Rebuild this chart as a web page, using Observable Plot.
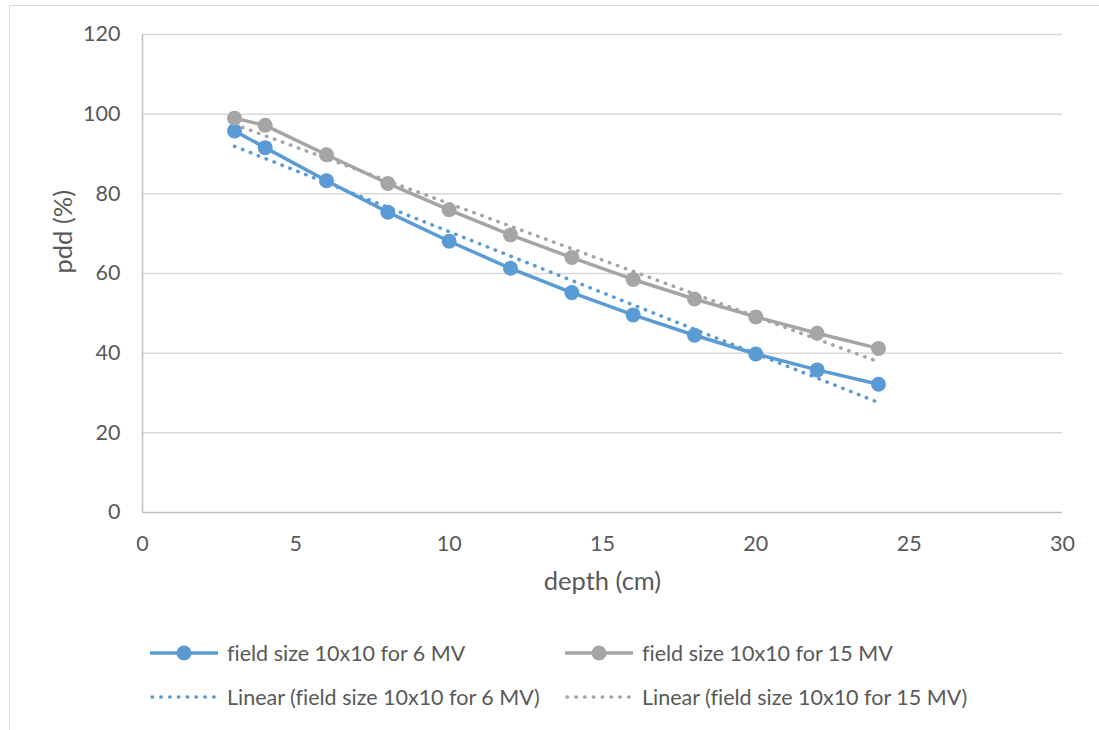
<!DOCTYPE html>
<html>
<head>
<meta charset="utf-8">
<script src="https://cdn.jsdelivr.net/npm/d3@7"></script>
<script src="https://cdn.jsdelivr.net/npm/@observablehq/plot@0.6"></script>
<style>
  body { margin: 0; background: #fff; font-family: Lato, "Open Sans", sans-serif; font-variant-ligatures: none; }
  svg text { font-variant-ligatures: none; }
  #wrap { position: relative; width: 1099px; height: 730px; overflow: hidden; }
  #frame { position: absolute; left: 9px; top: 5px; width: 1200px; height: 800px; border-top: 1.5px solid #d9d9d9; border-left: 1.5px solid #d9d9d9; pointer-events: none; }
  #chart { position: absolute; left: 0; top: 0; }
  #legend { position: absolute; left: 0; top: 610px; width: 1099px; height: 120px; }
  .item { position: absolute; display: flex; align-items: center; font-size: 21.5px; color: #595959; white-space: nowrap; font-variant-ligatures: none; }
  .item svg { margin-right: 7px; }
</style>
</head>
<body>
<div id="wrap">
  <div id="chart"></div>
  <div id="legend"></div>
  <div id="frame"></div>
</div>
<script>
const depth = [3, 4, 6, 8, 10, 12, 14, 16, 18, 20, 22, 24];
const pdd6 = [95.8, 91.6, 83.3, 75.4, 68.1, 61.3, 55.2, 49.6, 44.5, 39.8, 35.8, 32.2];
const pdd15 = [99.0, 97.2, 89.8, 82.6, 76.0, 69.7, 64.0, 58.5, 53.6, 49.1, 45.0, 41.2];
const seriesNames = ["field size 10x10 for 6 MV", "field size 10x10 for 15 MV"];
const trendNames = ["Linear (field size 10x10 for 6 MV)", "Linear (field size 10x10 for 15 MV)"];
const xLabel = "depth (cm)";
const yLabel = "pdd (%)";
const colors = ["#5b9bd5", "#a5a5a5"];
const xTicks = [0, 5, 10, 15, 20, 25, 30];
const yTicks = [0, 20, 40, 60, 80, 100, 120];

const d6 = depth.map((x, i) => ({x, y: pdd6[i]}));
const d15 = depth.map((x, i) => ({x, y: pdd15[i]}));
const dotStyle = {strokeWidth: 3.5, strokeDasharray: "0.5,8", strokeLinecap: "round"};

const chart = Plot.plot({
  width: 1099,
  height: 610,
  marginLeft: 142,
  marginRight: 37,
  marginTop: 34,
  marginBottom: 98,
  style: {fontFamily: "Lato, 'Open Sans', sans-serif", fontSize: "21.5px", color: "#595959", background: "transparent"},
  x: {domain: [0, 30], ticks: xTicks, tickSize: 0, tickPadding: 23, label: null},
  y: {domain: [0, 120], ticks: yTicks, tickSize: 0, tickPadding: 22, label: null},
  marks: [
    Plot.gridY(yTicks.filter(d => d > 0), {stroke: "#d9d9d9", strokeOpacity: 1, strokeWidth: 1.5}),
    Plot.ruleY([0], {stroke: "#bfbfbf", strokeWidth: 1.5}),
    Plot.ruleX([0], {stroke: "#bfbfbf", strokeWidth: 1.5}),
    Plot.line(d6, {x: "x", y: "y", stroke: colors[0], strokeWidth: 3.5}),
    Plot.line(d15, {x: "x", y: "y", stroke: colors[1], strokeWidth: 3.5}),
    Plot.linearRegressionY(d6, {x: "x", y: "y", ci: 0, stroke: colors[0], ...dotStyle}),
    Plot.linearRegressionY(d15, {x: "x", y: "y", ci: 0, stroke: colors[1], ...dotStyle}),
    Plot.dot(d6, {x: "x", y: "y", r: 7.5, fill: colors[0]}),
    Plot.dot(d15, {x: "x", y: "y", r: 7.5, fill: colors[1]}),
    Plot.text([xLabel], {frameAnchor: "bottom", dy: 69, text: d => d, fill: "#595959", fontSize: 25.5, lineAnchor: "middle"}),
    Plot.text([yLabel], {frameAnchor: "left", dx: -79, text: d => d, fill: "#595959", fontSize: 25.5, rotate: -90, lineAnchor: "middle"})
  ]
});
document.getElementById("chart").append(chart);

// legend
const legend = document.getElementById("legend");
const items = [
  {name: seriesNames[0], color: colors[0], dotted: false, left: 150, top: 43},
  {name: seriesNames[1], color: colors[1], dotted: false, left: 565, top: 43},
  {name: trendNames[0], color: colors[0], dotted: true, left: 150, top: 87},
  {name: trendNames[1], color: colors[1], dotted: true, left: 565, top: 87}
];
for (const it of items) {
  const div = document.createElement("div");
  div.className = "item";
  div.style.left = it.left + "px";
  div.style.top = (it.top - 15) + "px";
  div.style.height = "30px";
  const sample = it.dotted
    ? `<svg width="70" height="20"><line x1="2" y1="10" x2="68" y2="10" stroke="${it.color}" stroke-width="3.5" stroke-dasharray="0.5,8.3" stroke-linecap="round"/></svg>`
    : `<svg width="70" height="20"><line x1="0" y1="10" x2="68" y2="10" stroke="${it.color}" stroke-width="3.5"/><circle cx="34" cy="10" r="7.5" fill="${it.color}"/></svg>`;
  div.innerHTML = sample + `<span>${it.name}</span>`;
  legend.append(div);
}
</script>
</body>
</html>
